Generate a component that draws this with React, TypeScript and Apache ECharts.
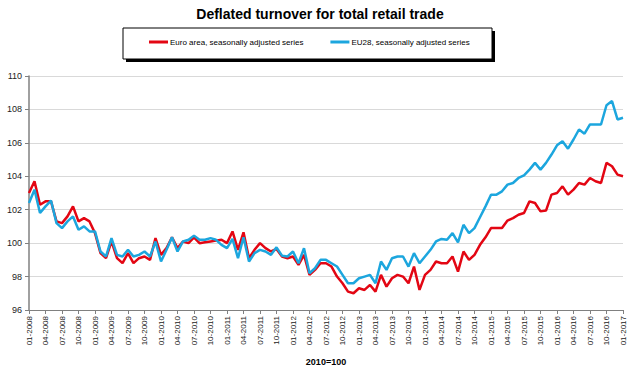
import React, { useEffect, useRef } from "react";
import * as echarts from "echarts";

const years = [2008, 2009, 2010, 2011, 2012, 2013, 2014, 2015, 2016, 2017];
const months = ["01", "02", "03", "04", "05", "06", "07", "08", "09", "10", "11", "12"];

const euroArea = [
  103.0, 103.7, 102.3, 102.5, 102.5, 101.3, 101.2, 101.6, 102.2, 101.3, 101.5, 101.3,
  100.6, 99.4, 99.1, 100.1, 99.1, 98.8, 99.4, 98.8, 99.1, 99.2, 99.0, 100.3,
  99.3, 99.7, 100.35, 99.7, 100.1, 100.0, 100.35, 100.0, 100.05, 100.1, 100.15, 100.2,
  100.0, 100.7, 99.6, 100.65, 99.1, 99.6, 100.0, 99.7, 99.5, 99.65, 99.2, 99.1,
  99.2, 98.7, 99.3, 98.1, 98.4, 98.8, 98.8, 98.6, 98.0, 97.6, 97.1, 97.0,
  97.3, 97.2, 97.5, 97.1, 98.1, 97.4, 97.9, 98.1, 98.0, 97.6, 98.6, 97.2,
  98.1, 98.4, 98.9, 98.8, 98.8, 99.2, 98.3, 99.5, 99.0, 99.3, 99.9, 100.35,
  100.9, 100.9, 100.9, 101.35, 101.5, 101.7, 101.8, 102.5, 102.4, 101.9, 101.95, 102.9,
  103.0, 103.4, 102.9, 103.2, 103.6, 103.5, 103.9, 103.7, 103.6, 104.8, 104.6, 104.1,
  104.0,
];

const eu28 = [
  102.4, 103.2, 101.8, 102.2, 102.55, 101.2, 100.9, 101.3, 101.6, 100.8, 101.0, 100.7,
  100.7, 99.5, 99.2, 100.3, 99.3, 99.2, 99.6, 99.2, 99.3, 99.5, 99.2, 100.1,
  98.9, 99.6, 100.35, 99.5, 100.1, 100.2, 100.45, 100.2, 100.2, 100.3, 100.2, 99.9,
  99.7, 100.25, 99.1, 100.35, 98.9, 99.4, 99.6, 99.5, 99.3, 99.75, 99.25, 99.2,
  99.5, 98.8, 99.7, 98.2, 98.5, 99.0, 99.0, 98.8, 98.6, 98.1, 97.6, 97.6,
  97.9, 98.0, 98.1, 97.6, 98.9, 98.4, 99.1, 99.2, 99.2, 98.6, 99.4, 98.8,
  99.2, 99.6, 100.1, 100.25, 100.2, 100.6, 100.05, 101.1, 100.6, 100.9, 101.55, 102.2,
  102.9, 102.9, 103.1, 103.5, 103.6, 103.9, 104.05, 104.4, 104.8, 104.4, 104.8, 105.3,
  105.85, 106.1, 105.65, 106.2, 106.8, 106.55, 107.1, 107.1, 107.1, 108.25, 108.5, 107.4,
  107.5,
];

const categories: string[] = [];
years.forEach((y) => {
  months.forEach((m) => {
    if (categories.length < euroArea.length) categories.push(`${m}-${y}`);
  });
});

const FONT = "Liberation Sans, Arial, sans-serif";

export default function App() {
  const ref = useRef<HTMLDivElement>(null);
  useEffect(() => {
    document.body.style.margin = "0";
    const chart = echarts.init(ref.current!, null, { renderer: "svg" });
    chart.setOption({
      animation: false,
      backgroundColor: "#fff",
      textStyle: { fontFamily: FONT },
      title: {
        text: "Deflated turnover for total retail trade",
        left: "center",
        top: 2,
        textStyle: { fontSize: 14, fontWeight: "bold", color: "#000", fontFamily: FONT },
      },
      graphic: [
        { type: "rect", z: 0, shape: { x: 126, y: 31, width: 369, height: 31 }, style: { fill: "#000" } },
        { type: "rect", z: 1, shape: { x: 123, y: 28, width: 369, height: 31 }, style: { fill: "#fff", stroke: "#000", lineWidth: 1 } },
      ],
      legend: {
        z: 10,
        left: 149,
        top: 38,
        padding: 0,
        itemWidth: 19,
        itemHeight: 3,
        itemGap: 27,
        icon: "rect",
        textStyle: { fontSize: 8, color: "#000", fontFamily: FONT, padding: [0, 0, 0, -3] },
        data: ["Euro area, seasonally adjusted series", "EU28, seasonally adjusted series"],
      },
      grid: { left: 29, right: 17, top: 76, bottom: 56, containLabel: false },
      xAxis: {
        type: "category",
        boundaryGap: false,
        data: categories,
        name: "2010=100",
        nameLocation: "middle",
        nameGap: 47,
        nameTextStyle: { fontSize: 9, fontWeight: "bold", color: "#000", fontFamily: FONT },
        axisLine: { lineStyle: { color: "#808080", width: 1 } },
        axisTick: { interval: 2, length: 4, lineStyle: { color: "#808080" } },
        axisLabel: { interval: 2, rotate: 90, fontSize: 8, color: "#222", margin: 6, fontFamily: FONT },
        splitLine: { show: false },
      },
      yAxis: {
        type: "value",
        min: 96,
        max: 110,
        interval: 2,
        axisLine: { show: true, lineStyle: { color: "#808080", width: 1.5 } },
        axisTick: { show: true, length: 4, lineStyle: { color: "#808080" } },
        axisLabel: { fontSize: 9, color: "#222", margin: 7, fontFamily: FONT },
        splitLine: { lineStyle: { color: "#d9d9d9", width: 1 } },
      },
      series: [
        {
          name: "Euro area, seasonally adjusted series",
          type: "line",
          data: euroArea,
          showSymbol: false,
          symbol: "none",
          color: "#e30613",
          lineStyle: { color: "#e30613", width: 2.5 },
          z: 3,
        },
        {
          name: "EU28, seasonally adjusted series",
          type: "line",
          data: eu28,
          showSymbol: false,
          symbol: "none",
          color: "#1ca6de",
          lineStyle: { color: "#1ca6de", width: 2.5 },
          z: 4,
        },
      ],
    });
    return () => chart.dispose();
  }, []);
  return <div ref={ref} style={{ width: 640, height: 371 }} />;
}
